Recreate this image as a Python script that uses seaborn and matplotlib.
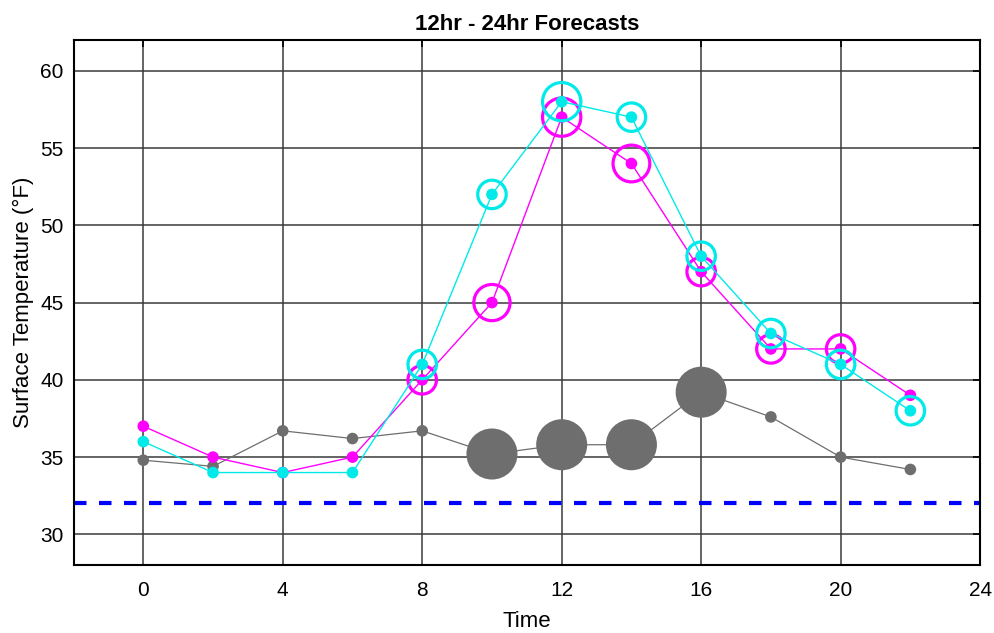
import numpy as np
import pandas as pd
import matplotlib
matplotlib.use('Agg')
import matplotlib.pyplot as plt
import seaborn as sns

# data
hours = [0, 2, 4, 6, 8, 10, 12, 14, 16, 18, 20, 22]
magenta_temp = [37, 35, 34, 35, 40, 45, 57, 54, 47, 42, 42, 39]
cyan_temp = [36, 34, 34, 34, 41, 52, 58, 57, 48, 43, 41, 38]
gray_temp = [34.8, 34.4, 36.7, 36.2, 36.7, 35.2, 35.8, 35.8, 39.2, 37.6, 35.0, 34.2]
# ring sizes (0 = no ring) and gray dot sizes, in points^2
magenta_ring = [0, 0, 0, 0, 420, 680, 760, 700, 420, 420, 420, 0]
cyan_ring = [0, 0, 0, 0, 420, 420, 760, 420, 420, 420, 420, 420]
gray_size = [70, 70, 70, 70, 70, 1350, 1350, 1350, 1350, 70, 70, 70]
freeze_line = 32

df = pd.DataFrame({'Time': hours, 'magenta': magenta_temp, 'cyan': cyan_temp,
                   'gray': gray_temp, 'mring': magenta_ring, 'cring': cyan_ring,
                   'gsize': gray_size})

sns.set_style('white')
plt.rcParams['font.family'] = ['Liberation Sans', 'DejaVu Sans']
plt.rcParams['text.color'] = 'black'
plt.rcParams['axes.labelcolor'] = 'black'

MAG = '#ff00ff'
CYA = '#00eaea'
GRY = '#6e6e6e'

fig, ax = plt.subplots(figsize=(9.94, 6.33), dpi=100)
fig.subplots_adjust(left=0.074, right=0.986, top=0.937, bottom=0.107)

# freezing line
ax.axhline(freeze_line, color='#0000ff', linestyle=(0, (3, 3)), linewidth=3, zorder=2)

# gray series
sns.lineplot(data=df, x='Time', y='gray', color=GRY, linewidth=0.9, ax=ax, zorder=3)
sns.scatterplot(data=df, x='Time', y='gray', color=GRY, s=df['gsize'], edgecolor='none',
                ax=ax, zorder=3, legend=False)

# magenta series
sns.lineplot(data=df, x='Time', y='magenta', color=MAG, linewidth=1.0, ax=ax, zorder=4)
sns.scatterplot(data=df, x='Time', y='magenta', color=MAG, s=70, edgecolor='none',
                ax=ax, zorder=4, legend=False)
rm = df[df['mring'] > 0]
sns.scatterplot(data=rm, x='Time', y='magenta', s=rm['mring'], facecolors='none',
                edgecolor=MAG, linewidth=2.3, ax=ax, zorder=4, legend=False)

# cyan series
sns.lineplot(data=df, x='Time', y='cyan', color=CYA, linewidth=1.0, ax=ax, zorder=5)
sns.scatterplot(data=df, x='Time', y='cyan', color=CYA, s=70, edgecolor='none',
                ax=ax, zorder=5, legend=False)
rc = df[df['cring'] > 0]
sns.scatterplot(data=rc, x='Time', y='cyan', s=rc['cring'], facecolors='none',
                edgecolor=CYA, linewidth=2.3, ax=ax, zorder=5, legend=False)

ax.set_xlim(-2, 24)
ax.set_ylim(28, 62)
ax.set_xticks(np.arange(0, 25, 4))
ax.set_yticks(np.arange(30, 61, 5))
ax.grid(True, color='#3a3a3a', linewidth=1.1)
ax.set_axisbelow(True)
ax.tick_params(direction='in', top=True, right=True, length=5, width=1.2,
               labelsize=15, colors='black')
ax.tick_params(axis='x', pad=11)
ax.tick_params(axis='y', pad=7)
for s in ax.spines.values():
    s.set_color('black')
    s.set_linewidth(1.5)

ax.set_title('12hr - 24hr Forecasts', fontsize=16, fontweight='bold', pad=7, color='black')
ax.set_xlabel('Time', fontsize=16, labelpad=8)
ax.set_ylabel('Surface Temperature (°F)', fontsize=16, labelpad=5)

fig.savefig('out.png', dpi=100)
